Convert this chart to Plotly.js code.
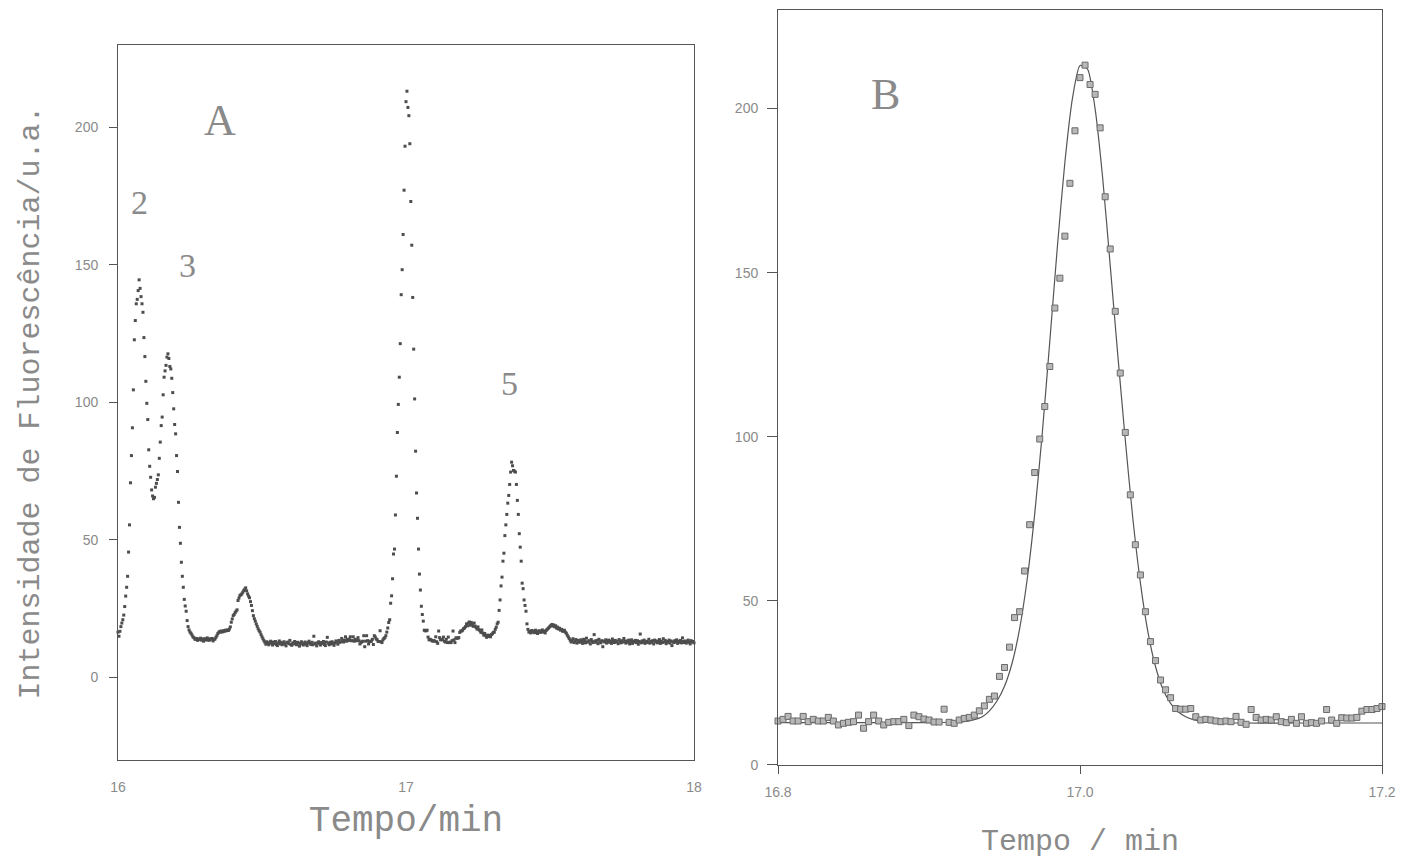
<!DOCTYPE html>
<html>
<head>
<meta charset="utf-8">
<script src="https://cdn.plot.ly/plotly-3.0.1.min.js"></script>
<style>
html,body{margin:0;padding:0;background:#ffffff;}
#chart{width:1405px;height:861px;}
</style>
</head>
<body>
<div id="chart"></div>
<script>
// Sampling: one point every 0.2 s (= 0.0033333 min)
const sampleStep = 0.0033333;
const startA = 16.0;
const startB = 16.8;

// Panel A, 16.000 - 16.260 min (peaks 2 and 3)
const peaks23 = [16.5,15.0,16.8,18.5,19.8,21.0,22.7,25.8,29.6,32.8,
  36.8,45.6,55.5,70.8,80.7,90.8,104.6,122.8,129.8,135.9,
  137.5,140.7,144.6,141.5,138.5,135.9,132.8,123.6,116.7,107.7,
  99.7,93.8,82.8,76.8,72.8,68.2,66.0,65.0,65.5,69.2,
  70.6,72.0,73.7,79.7,85.6,91.6,94.7,102.8,109.2,111.5,
  113.5,116.5,117.7,116.0,113.1,112.2,108.8,103.6,97.7,92.0,
  88.6,80.7,74.9,63.7,54.6,48.8,41.9,36.8,32.8,28.4,
  26.0,24.1,20.7,18.5,17.3,16.5,16.1,15.5,14.8];
// 16.263 - 16.390 min
const baseline1 = [14.5,14.0,13.8,14.2,13.5,14.0,13.8,14.3,13.6,14.0,
  13.2,14.1,13.9,13.6,14.4,13.8,13.5,14.1,13.9,14.2,
  13.3,13.8,14.0,14.6,15.2,16.0,16.4,16.8,16.5,16.9,
  16.6,17.0,16.8,17.2,17.0,17.3,17.1,17.6,18.4];
// 16.393 - 16.503 min (small peak)
const smallPeak = [20.1,21.3,22.5,22.9,23.6,24.1,24.6,28.0,28.9,29.8,
  30.1,30.4,31.0,31.6,32.1,32.6,31.5,30.4,29.6,29.0,
  27.6,26.2,24.3,22.5,21.4,20.5,19.5,18.6,17.7,17.0,
  16.5,15.6,14.8,14.1];
// 16.507 - 16.797 min
const baseline2 = [13.4,12.8,12.1,13.0,12.5,11.9,12.7,13.2,12.4,11.8,
  12.9,12.3,13.1,12.0,11.6,12.6,13.3,12.2,12.8,11.9,
  12.4,13.0,12.1,11.5,12.7,12.9,12.3,13.5,12.0,11.7,
  12.6,12.2,13.1,12.4,11.9,12.8,12.5,11.4,12.2,13.0,
  12.6,11.8,12.3,12.9,12.1,11.6,12.7,13.2,12.4,12.0,
  12.8,11.9,15.0,12.5,12.2,11.5,12.6,13.0,12.3,11.8,
  12.7,12.4,13.1,12.0,11.6,12.9,14.6,12.5,11.9,12.8,
  12.2,13.0,12.4,11.7,12.6,13.3,12.9,12.1,13.5,12.8,
  13.0,14.2,13.4,12.9,13.6,14.8,13.2,13.9];
// 16.800 - 17.200 min (peak 4, shown in both panels)
const peak4 = [13.4,13.9,14.8,13.4,13.4,14.8,13.2,13.9,13.4,13.4,
  14.5,13.4,12.2,12.7,13.0,13.2,15.2,11.2,13.2,15.2,
  13.4,12.2,13.0,13.2,13.2,13.9,12.0,15.2,14.7,14.0,
  13.7,13.1,13.1,17.0,13.0,12.7,13.7,14.2,14.5,15.2,
  16.5,18.0,20.0,21.0,27.0,29.7,35.9,44.9,46.7,59.1,
  73.2,89.1,99.3,109.2,121.4,139.2,148.3,161.1,177.2,193.2,
  209.4,213.2,207.3,204.3,194.1,173.1,157.2,138.2,119.4,101.3,
  82.3,67.1,57.9,46.7,37.6,31.8,25.9,22.9,20.5,17.2,
  17.0,17.0,17.2,14.7,13.7,13.9,13.7,13.4,13.2,13.4,
  13.2,14.8,13.0,12.4,16.9,14.5,13.7,13.9,13.7,14.7,
  13.2,12.9,13.9,12.7,14.7,12.7,12.9,12.7,13.4,16.9,
  13.7,12.7,14.4,14.3,14.3,14.5,16.4,16.9,16.9,17.2,
  17.8];
// 17.203 - 17.303 min
const bump = [18.0,18.5,19.5,18.8,19.8,20.2,19.0,20.0,19.3,18.6,
  19.8,18.7,18.2,17.6,18.4,17.4,17.0,16.4,17.3,16.2,
  15.4,16.0,15.2,14.6,15.4,14.9,15.3,14.8,15.6,15.9,16.4];
// 17.307 - 17.427 min (peak 5)
const peak5 = [16.5,17.5,18.3,19.5,20.1,24.4,28.2,33.3,36.5,42.3,
  45.2,51.6,55.5,59.3,63.4,66.2,70.2,74.7,78.3,77.0,
  75.3,75.0,74.7,70.2,64.4,59.3,52.3,47.4,42.3,34.3,
  32.3,28.2,26.2,24.1,19.5,17.5,16.5];
// 17.430 - 18.000 min
const baseline3 = [16.8,16.2,17.1,16.5,16.9,16.3,17.2,16.6,16.0,16.8,
  17.0,16.4,16.7,17.3,16.5,16.9,16.2,17.1,17.5,17.8,18.2,
  18.6,18.9,19.3,18.7,19.1,18.4,18.8,17.9,18.3,17.6,17.9,17.2,17.5,16.9,
  16.8,17.2,16.5,16.1,15.4,14.8,14.2,
  13.6,12.9,13.4,14.1,12.7,13.2,13.8,12.5,13.5,13.0,
  12.8,13.7,13.1,12.4,13.9,13.3,12.6,14.3,13.0,12.9,
  13.4,12.2,13.8,13.1,12.7,15.6,13.3,12.8,13.5,12.3,
  13.9,13.0,12.6,13.4,11.2,13.2,12.9,13.7,12.5,13.1,
  13.6,12.8,13.3,12.4,14.0,13.1,12.7,13.5,12.9,13.2,
  12.3,13.8,13.0,12.6,13.4,12.9,14.2,13.1,12.5,13.3,
  12.8,13.6,12.2,13.0,13.7,12.4,13.2,12.9,13.5,12.7,
  13.4,12.1,13.1,15.8,12.6,13.3,12.8,13.6,12.4,13.0,
  13.2,12.7,13.9,12.5,13.1,12.8,13.4,12.2,13.6,12.9,
  13.3,12.6,13.0,13.8,12.4,13.2,12.7,14.1,12.9,13.5,
  12.3,13.1,12.8,13.6,12.5,13.3,11.6,13.0,12.7,13.4,
  12.9,13.7,12.4,13.2,12.8,13.5,12.6,14.4,13.1,12.7,
  13.3,12.5,13.0,13.6,12.8,12.2,13.4,12.9,13.1,12.6];

// Fitted curve in panel B
const fitTime = [16.8,16.85,16.9,16.92,16.925,16.93,16.935,16.94,16.945,16.95,
  16.955,16.96,16.965,16.97,16.975,16.98,16.985,16.99,16.995,17.0,
  17.005,17.01,17.015,17.02,17.025,17.03,17.035,17.04,17.045,17.05,
  17.055,17.06,17.065,17.07,17.075,17.08,17.085,17.1,17.15,17.2];
const fitValue = [12.9,12.9,12.9,13.1,13.3,13.8,14.6,16.5,19.5,24.0,
  31.0,41.5,56.5,76.5,101.0,129.1,157.8,183.7,203.1,213.1,
  212.0,199.9,178.9,152.2,125.0,99.0,75.0,55.5,40.5,30.0,
  23.0,18.8,16.2,14.7,13.8,13.3,13.0,12.8,12.8,12.8];

// Tick labels
const tickValsA = [16, 17, 18];
const tickTextA = ['16', '17', '18'];
const tickValsB = [16.8, 17.0, 17.2];
const tickTextB = ['16.8', '17.0', '17.2'];
const yTickVals = [0, 50, 100, 150, 200];

// Peak labels
const peakLabels = ['2', '3', '4', '5'];
const peakLabelTime = [16.073, 16.240, 16.885, 17.361];
const peakLabelValue = [172.7, 149.8, 230.2, 106.9];

const intensityA = [].concat(peaks23, baseline1, smallPeak, baseline2, peak4, bump, peak5, baseline3);

const axisColor = '#555555';
const textColor = '#8a8a8a';
const monoFont = 'Liberation Mono, Courier New, monospace';
const serifFont = 'Liberation Serif, Times New Roman, serif';
const sansFont = 'Liberation Sans, Arial, sans-serif';

const traces = [
  {
    type: 'scatter', mode: 'markers', name: 'A',
    y: intensityA, x0: startA, dx: sampleStep,
    xaxis: 'x', yaxis: 'y', cliponaxis: false,
    marker: {symbol: 'square', size: 3, color: '#4d4d4d'},
    showlegend: false, hoverinfo: 'x+y'
  },
  {
    type: 'scatter', mode: 'lines', name: 'ajuste',
    x: fitTime, y: fitValue,
    xaxis: 'x2', yaxis: 'y2',
    line: {color: '#555555', width: 1.2, shape: 'spline', smoothing: 0.6},
    showlegend: false
  },
  {
    type: 'scatter', mode: 'markers', name: 'B',
    y: peak4, x0: startB, dx: sampleStep,
    xaxis: 'x2', yaxis: 'y2', cliponaxis: false,
    marker: {symbol: 'square', size: 6, color: '#b8b8b8', line: {color: '#6a6a6a', width: 1}},
    showlegend: false
  }
];

const annotations = peakLabels.map((t, i) => ({
  text: t, x: peakLabelTime[i], y: peakLabelValue[i], xref: 'x', yref: 'y',
  showarrow: false, font: {family: serifFont, size: 34, color: textColor}
}));
annotations.push({text: 'A', x: 16.354, y: 202.5, xref: 'x', yref: 'y', showarrow: false,
  font: {family: serifFont, size: 44, color: textColor}});
annotations.push({text: 'B', x: 16.871, y: 204.3, xref: 'x2', yref: 'y2', showarrow: false,
  font: {family: serifFont, size: 44, color: textColor}});

const baseAxis = {
  showline: true, mirror: true, linecolor: axisColor, linewidth: 1,
  showgrid: false, zeroline: false,
  tickfont: {family: sansFont, size: 14, color: textColor},
  tickcolor: axisColor, tickwidth: 1
};

const layout = {
  width: 1405, height: 861, autosize: false,
  margin: {l: 0, r: 0, t: 0, b: 0},
  paper_bgcolor: '#ffffff', plot_bgcolor: '#ffffff',
  showlegend: false,
  xaxis: Object.assign({}, baseAxis, {
    domain: [0.08399, 0.49395], range: [16, 18], anchor: 'y',
    tickmode: 'array', tickvals: tickValsA, ticktext: tickTextA,
    ticks: '', ticklabelstandoff: 14,
    title: {text: 'Tempo/min', font: {family: monoFont, size: 36, color: textColor}, standoff: 12}
  }),
  yaxis: Object.assign({}, baseAxis, {
    domain: [0.11731, 0.94774], range: [-30, 230], anchor: 'x',
    tickmode: 'array', tickvals: yTickVals,
    ticks: 'outside', ticklen: 8, ticklabelstandoff: 8,
    title: {text: 'Intensidade de Fluorescência/u.a.', font: {family: monoFont, size: 30, color: textColor}, standoff: 26}
  }),
  xaxis2: Object.assign({}, baseAxis, {
    domain: [0.55374, 0.98363], range: [16.8, 17.2], anchor: 'y2',
    tickmode: 'array', tickvals: tickValsB, ticktext: tickTextB,
    ticks: 'outside', ticklen: 8, ticklabelstandoff: 6,
    title: {text: 'Tempo / min', font: {family: monoFont, size: 30, color: textColor}, standoff: 30}
  }),
  yaxis2: Object.assign({}, baseAxis, {
    domain: [0.1115, 0.98839], range: [0, 230], anchor: 'x2',
    tickmode: 'array', tickvals: yTickVals,
    ticks: 'outside', ticklen: 10, ticklabelstandoff: 6
  }),
  annotations: annotations
};

Plotly.newPlot('chart', traces, layout, {displayModeBar: false, staticPlot: true});
</script>
</body>
</html>
